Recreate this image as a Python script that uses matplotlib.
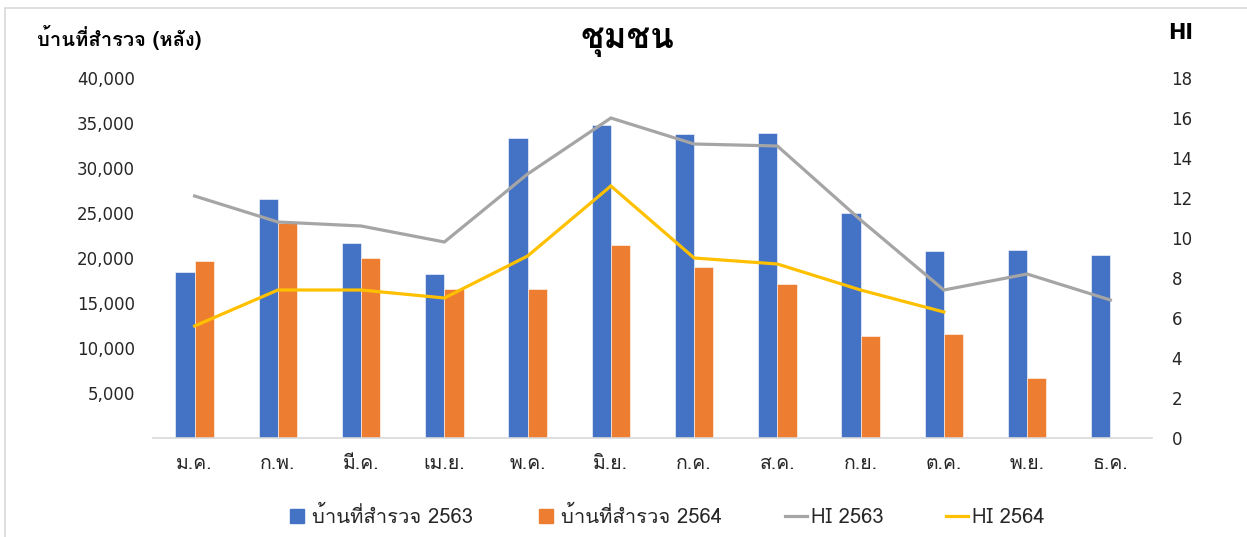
import matplotlib

matplotlib.use("Agg")
import matplotlib.pyplot as plt
import numpy as np
from matplotlib.lines import Line2D
from matplotlib.patches import Rectangle

LATIN = ["DejaVu Sans", "Loma"]
THAI = ["Loma", "DejaVu Sans"]
plt.rcParams["font.family"] = LATIN

BLUE = "#4472C4"
ORANGE = "#ED7D31"
GRAY = "#A5A5A5"
YELLOW = "#FFC000"
INK = "#262626"

months = ["ม.ค.", "ก.พ.", "มี.ค.", "เม.ย.", "พ.ค.", "มิ.ย.",
          "ก.ค.", "ส.ค.", "ก.ย.", "ต.ค.", "พ.ย.", "ธ.ค."]
houses_2563 = [18500, 26600, 21700, 18200, 33300, 34800,
               33800, 33900, 25000, 20800, 20900, 20300]
houses_2564 = [19700, 23900, 20000, 16600, 16600, 21400,
               19000, 17100, 11300, 11600, 6700, np.nan]
hi_2563 = [12.1, 10.8, 10.6, 9.8, 13.2, 16.0, 14.7, 14.6, 10.9, 7.4, 8.2, 6.9]
hi_2564 = [5.6, 7.4, 7.4, 7.0, 9.1, 12.6, 9.0, 8.7, 7.4, 6.3, np.nan, np.nan]

W, H = 1247, 537
fig = plt.figure(figsize=(W / 100, H / 100), dpi=100)

# outer chart frame (only left/top visible in the crop)
fig.add_artist(Rectangle((5 / W, -0.1), 1.2, (H - 8) / H + 0.1,
                         transform=fig.transFigure, fill=False,
                         ec="#d9d9d9", lw=1.2))

ax = fig.add_axes([153 / W, (H - 438) / H, 999 / W, 360 / H])
ax2 = ax.twinx()

x = np.arange(len(months))
bw = 0.232
ax.bar(x - bw / 2, houses_2563, bw, color=BLUE, ec="white", lw=0.4)
ax.bar(x + bw / 2, houses_2564, bw, color=ORANGE, ec="white", lw=0.4)

ax2.plot(x, hi_2563, color=GRAY, lw=2.3, solid_joinstyle="miter")
ax2.plot(x, hi_2564, color=YELLOW, lw=2.3, solid_joinstyle="miter")

ax.set_xlim(-0.5, 11.5)
ax.set_ylim(0, 40000)
ax2.set_ylim(0, 18)
ax.set_yticks(range(5000, 40001, 5000))
ax.set_yticklabels([f"{v:,}" for v in range(5000, 40001, 5000)])
ax2.set_yticks(range(0, 19, 2))
ax.set_xticks(x)
ax.set_xticklabels(months, family=THAI, fontsize=14)

for a in (ax, ax2):
    for s in a.spines.values():
        s.set_visible(False)
    a.tick_params(length=0, labelsize=12, labelcolor=INK)
ax.spines["bottom"].set_visible(True)
ax.spines["bottom"].set_color("#d9d9d9")
ax.spines["bottom"].set_linewidth(1.2)
ax.tick_params(axis="y", pad=13)
ax.tick_params(axis="x", pad=12, labelsize=14)
ax2.tick_params(axis="y", pad=14)

fig.text(627 / W, (H - 42) / H, "ชุมชน", ha="center", va="center",
         fontsize=25, fontweight="bold", color="black", family=THAI)
fig.text(37 / W, (H - 37) / H, "บ้านที่สำรวจ (หลัง)", ha="left", va="center",
         fontsize=14.5, fontweight="bold", color="black", family=THAI)
fig.text(1181 / W, (H - 33) / H, "HI", ha="center", va="center",
         fontsize=15, fontweight="bold", color="black")

handles = [
    Line2D([], [], ls="none", marker="s", ms=10, mfc=BLUE, mec=BLUE),
    Line2D([], [], ls="none", marker="s", ms=10, mfc=ORANGE, mec=ORANGE),
    Line2D([], [], color=GRAY, lw=2.3),
    Line2D([], [], color=YELLOW, lw=2.3),
]
labels = ["บ้านที่สำรวจ 2563", "บ้านที่สำรวจ 2564", "HI 2563", "HI 2564"]
fig.legend(handles, labels, loc="center", bbox_to_anchor=(665 / W, (H - 516) / H),
           ncol=4, frameon=False, handlelength=1.1, handletextpad=0.2,
           columnspacing=3.1, labelcolor=INK,
           prop={"family": THAI, "size": 14.5})

fig.savefig("out.png", dpi=100, facecolor="white")
